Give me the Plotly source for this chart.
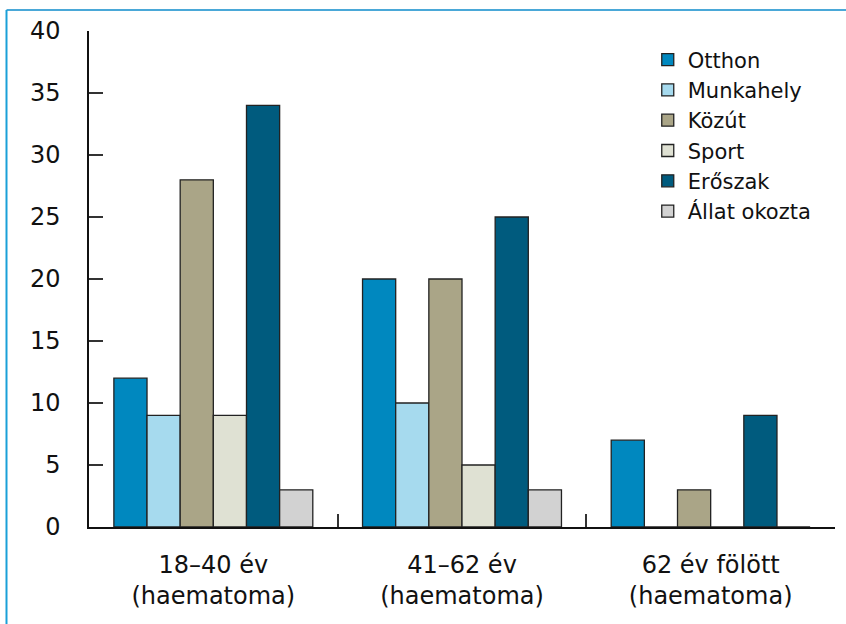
import plotly.graph_objects as go

categories = ["18–40 év", "41–62 év", "62 év fölött"]
tick_labels = ["18–40 év<br>(haematoma)", "41–62 év<br>(haematoma)", "62 év fölött<br>(haematoma)"]
series_names = ["Otthon", "Munkahely", "Közút", "Sport", "Erőszak", "Állat okozta"]
otthon = [12, 20, 7]
munkahely = [9, 10, 0]
kozut = [28, 20, 3]
sport = [9, 5, 0]
eroszak = [34, 25, 9]
allat = [3, 3, 0]
colors = ["#0088bf", "#a6daee", "#aaa587", "#dfe1d3", "#005b7e", "#d2d2d2"]

values = [otthon, munkahely, kozut, sport, eroszak, allat]
FONT = "DejaVu Sans"

fig = go.Figure()
for name, vals, col in zip(series_names, values, colors):
    fig.add_trace(go.Bar(
        name=name, x=categories, y=vals,
        marker=dict(color=col, line=dict(color="#222222", width=1.3)),
    ))

fig.update_layout(
    width=846, height=624,
    margin=dict(l=89, r=11, t=31, b=97, autoexpand=False),
    paper_bgcolor="white", plot_bgcolor="white",
    barmode="group", bargap=0.2, bargroupgap=0,
    font=dict(family=FONT, color="#111111", size=22),
    showlegend=True,
    legend=dict(
        x=0.749, y=0.983, xanchor="left", yanchor="top",
        font=dict(family=FONT, size=21, color="#111111"),
        bgcolor="rgba(0,0,0,0)", tracegroupgap=0,
    ),
    shapes=[
        dict(type="line", xref="paper", yref="paper", x0=-0.1106, x1=1.02, y0=1.0423, y1=1.0423,
             line=dict(color="#4aa8d8", width=2)),
        dict(type="line", xref="paper", yref="paper", x0=-0.1106, x1=-0.1106, y0=1.0423, y1=-0.21,
             line=dict(color="#1aa0d8", width=2)),
    ],
)

fig.update_yaxes(
    range=[0, 40], tickvals=[0, 5, 10, 15, 20, 25, 30, 35, 40],
    showgrid=False, zeroline=False, automargin=False,
    showline=True, linecolor="#111111", linewidth=1.5,
    ticks="inside", ticklen=14, tickwidth=1.5, tickcolor="#333333",
    ticklabelstandoff=22,
    tickfont=dict(family=FONT, size=24, color="#111111"),
)
fig.update_xaxes(
    tickvals=categories, ticktext=tick_labels, automargin=False,
    tickson="boundaries", ticks="inside", ticklen=13, tickwidth=1.5, tickcolor="#333333",
    showgrid=False, zeroline=False,
    showline=True, linecolor="#111111", linewidth=1.5,
    ticklabelstandoff=15,
    tickfont=dict(family=FONT, size=24, color="#111111"),
)

fig.write_html("out.html", config={"displayModeBar": False},
               post_script="document.body.style.margin='0';")
